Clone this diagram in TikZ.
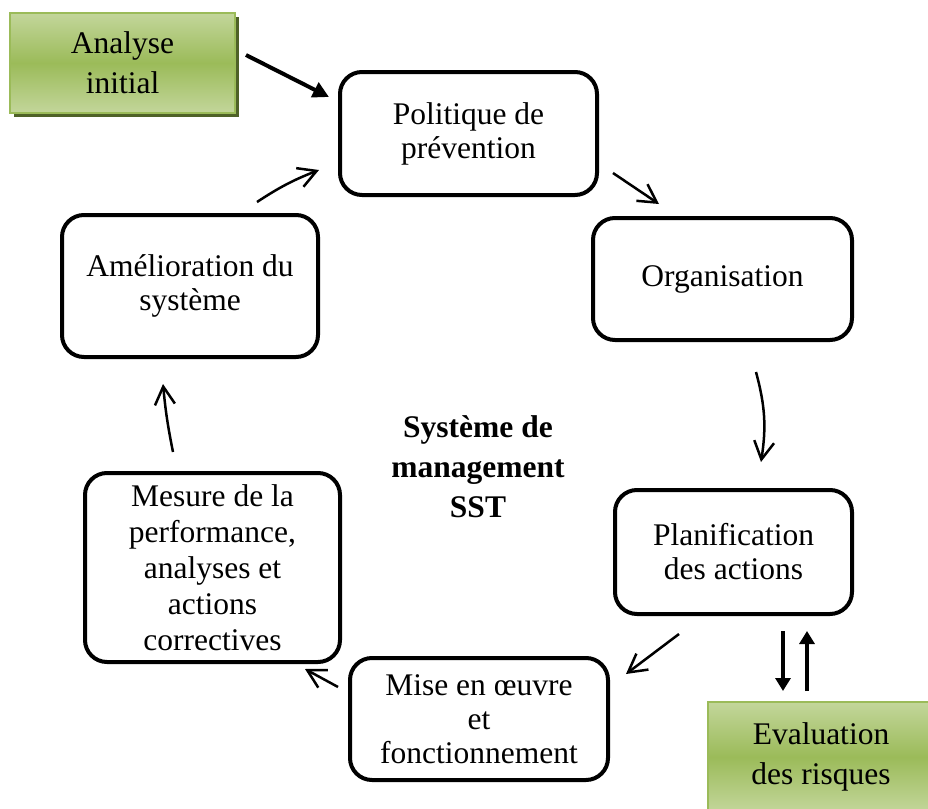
\documentclass[tikz,border=0pt]{standalone}
\usepackage{fontspec}
\setmainfont{Liberation Serif}
\usetikzlibrary{arrows.meta,shadows}
\definecolor{gLight}{HTML}{C3D69B}
\definecolor{gMid}{HTML}{9BBB59}
\definecolor{gEdge}{HTML}{9BBB59}
\definecolor{gShadow}{HTML}{4F6228}
\tikzset{
  stage/.style={draw=black, line width=2pt, rounded corners=11pt, fill=white,
    align=center, inner sep=0pt, font=\fontsize{15.75}{17}\selectfont},
  input/.style={draw=gEdge, line width=0.8pt, top color=gLight, bottom color=gLight,
    middle color=gMid, align=center, inner sep=0pt, font=\fontsize{15.75}{20}\selectfont,
    drop shadow={shadow xshift=1.8pt, shadow yshift=-2pt, fill=gShadow, opacity=1}},
  flow/.style={-{Straight Barb[length=9pt,width=10pt,line width=1.25pt]}, line width=1.25pt},
  feed/.style={-{Triangle[length=8pt,width=8pt]}, line width=2pt},
  link/.style={-{Triangle[length=6.5pt,width=7.5pt]}, line width=2pt},
  title/.style={align=center, font=\bfseries\fontsize{15.75}{20}\selectfont},
}
\begin{document}
\begin{tikzpicture}[x=0.5pt,y=-0.5pt]
\clip (0,0) rectangle (928,809);
\fill[white] (0,0) rectangle (928,809);

% cycle stages
\node[stage, minimum width=128.5pt, minimum height=61.5pt] (pol) at (468.5,133.5) {Politique de\\prévention};
\node[stage, minimum width=129.5pt, minimum height=61pt] (org) at (722.5,279) {Organisation};
\node[stage, minimum width=118.5pt, minimum height=62pt] (pla) at (733.5,552) {Planification\\des actions};
\node[stage, minimum width=129pt, minimum height=61pt] (mise) at (479,719) {Mise en œuvre\\et\\fonctionnement};
\node[stage, minimum width=127.5pt, minimum height=94.5pt, font=\fontsize{15.75}{18}\selectfont] (mes) at (212.5,567.5) {Mesure de la\\performance,\\analyses et\\actions\\correctives};
\node[stage, minimum width=128pt, minimum height=71pt] (ame) at (190,286) {Amélioration du\\système};

% inputs
\node[input, minimum width=112.5pt, minimum height=50pt] (ana) at (122.5,63) {Analyse\\initial};
\node[input, minimum width=113pt, minimum height=55pt] (eva) at (821,757) {Evaluation\\des risques};

% centre title
\node[title] (sys) at (478,467) {Système de\\management\\SST};

% arrow end points
\coordinate (a1) at (246,55);  \coordinate (a2) at (329,97);
\coordinate (b1) at (257,202); \coordinate (b2) at (319,170);
\coordinate (c1) at (613,173); \coordinate (c2) at (659,204);
\coordinate (d1) at (756,372); \coordinate (d2) at (761,462);
\coordinate (e1) at (679,634); \coordinate (e2) at (626,674);
\coordinate (f1) at (338,687); \coordinate (f2) at (305,669);
\coordinate (g1) at (173,452); \coordinate (g2) at (163,384);
\coordinate (h1) at (783,631); \coordinate (h2) at (783,691);
\coordinate (k1) at (807,691); \coordinate (k2) at (807,631);

\draw[feed] (a1) -- (a2);
\draw[flow] (b1) to[bend left=6] (b2);
\draw[flow] (c1) -- (c2);
\draw[flow] (d1) to[bend left=12] (d2);
\draw[flow] (e1) -- (e2);
\draw[flow] (f1) -- (f2);
\draw[flow] (g1) to[bend left=3] (g2);
\draw[link] (h1) -- (h2);
\draw[link] (k1) -- (k2);
\end{tikzpicture}
\end{document}
